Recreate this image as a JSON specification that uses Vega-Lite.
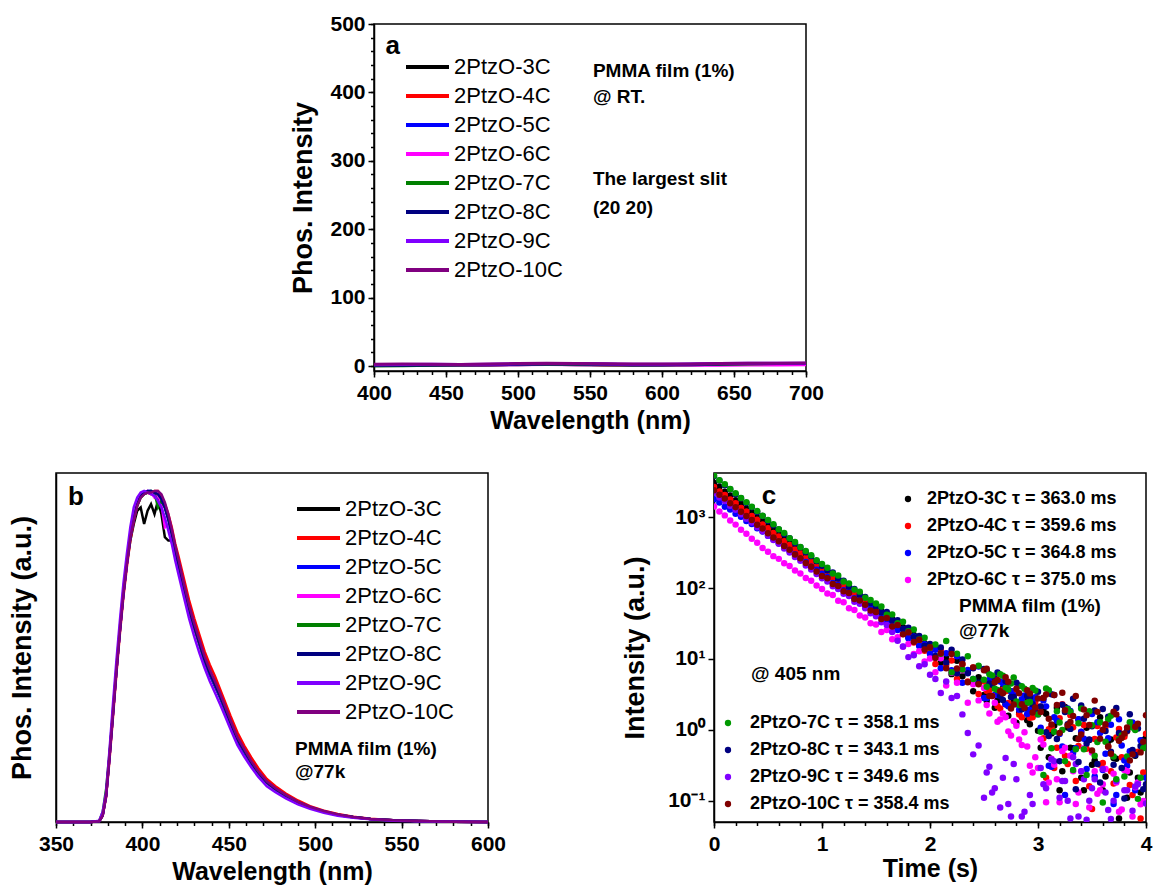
{
"$schema":"https://vega.github.io/schema/vega-lite/v6.json",
"padding":{"left":7,"top":12,"right":5,"bottom":5},
"background":"white",
"config":{
 "font":"Liberation Sans",
 "view":{"stroke":"#000","strokeWidth":1.5},
 "axis":{"domainColor":"#000","domainWidth":1.5,"tickColor":"#000","tickWidth":1.5,"tickSize":6,"labelColor":"#000","labelFontSize":21,"labelFontWeight":"bold","labelPadding":3,"labelFlush":false,"labelOverlap":false,"labelBound":false,"titleColor":"#000","titleFontWeight":"bold","titleFontSize":25,"grid":false},
 "legend":{"labelColor":"#000","padding":0,"offset":0,"labelLimit":400},
 "text":{"color":"#000"}
},
"datasets":{
 "names":[{"k":"3C","name":"2PtzO-3C"},{"k":"4C","name":"2PtzO-4C"},{"k":"5C","name":"2PtzO-5C"},{"k":"6C","name":"2PtzO-6C"},{"k":"7C","name":"2PtzO-7C"},{"k":"8C","name":"2PtzO-8C"},{"k":"9C","name":"2PtzO-9C"},{"k":"10C","name":"2PtzO-10C"}],
 "cnames":[{"k":"3C","name":"2PtzO-3C τ = 363.0 ms"},{"k":"4C","name":"2PtzO-4C τ = 359.6 ms"},{"k":"5C","name":"2PtzO-5C τ = 364.8 ms"},{"k":"6C","name":"2PtzO-6C τ = 375.0 ms"},{"k":"7C","name":"2PtzO-7C τ = 358.1 ms"},{"k":"8C","name":"2PtzO-8C τ = 343.1 ms"},{"k":"9C","name":"2PtzO-9C τ = 349.6 ms"},{"k":"10C","name":"2PtzO-10C τ = 358.4 ms"}],
 "a":[
  {"w":400,"3C":0.5,"4C":1.5,"5C":2.0,"6C":1.5,"7C":0.5,"8C":1.0,"9C":2.0,"10C":2.5},
  {"w":420,"3C":0.8,"4C":1.8,"5C":1.8,"6C":1.2,"7C":0.5,"8C":1.2,"9C":2.2,"10C":2.8},
  {"w":440,"3C":1.0,"4C":1.5,"5C":2.0,"6C":1.0,"7C":1.0,"8C":1.5,"9C":2.5,"10C":2.5},
  {"w":460,"3C":1.2,"4C":1.2,"5C":1.5,"6C":1.2,"7C":1.5,"8C":1.8,"9C":2.2,"10C":2.2},
  {"w":480,"3C":1.5,"4C":2.0,"5C":2.2,"6C":1.5,"7C":2.0,"8C":2.0,"9C":2.5,"10C":2.8},
  {"w":500,"3C":2.0,"4C":2.5,"5C":2.8,"6C":2.0,"7C":2.5,"8C":2.5,"9C":3.2,"10C":3.5},
  {"w":520,"3C":2.5,"4C":3.0,"5C":3.2,"6C":2.2,"7C":3.0,"8C":3.0,"9C":3.8,"10C":4.0},
  {"w":540,"3C":2.0,"4C":2.5,"5C":3.0,"6C":2.0,"7C":2.5,"8C":3.0,"9C":3.5,"10C":3.5},
  {"w":560,"3C":1.5,"4C":2.0,"5C":2.5,"6C":1.8,"7C":2.0,"8C":2.5,"9C":3.0,"10C":3.2},
  {"w":580,"3C":1.2,"4C":1.8,"5C":2.0,"6C":1.5,"7C":1.5,"8C":2.0,"9C":2.5,"10C":3.0},
  {"w":600,"3C":1.5,"4C":2.0,"5C":1.8,"6C":1.2,"7C":1.5,"8C":2.0,"9C":2.5,"10C":2.8},
  {"w":620,"3C":2.0,"4C":2.2,"5C":2.0,"6C":1.0,"7C":2.0,"8C":2.5,"9C":2.8,"10C":3.0},
  {"w":640,"3C":2.5,"4C":2.8,"5C":2.5,"6C":1.2,"7C":2.5,"8C":3.0,"9C":3.5,"10C":3.5},
  {"w":660,"3C":3.0,"4C":3.2,"5C":3.0,"6C":1.5,"7C":3.0,"8C":3.5,"9C":4.0,"10C":4.0},
  {"w":680,"3C":3.0,"4C":3.0,"5C":3.2,"6C":1.5,"7C":3.5,"8C":3.5,"9C":4.2,"10C":4.2},
  {"w":700,"3C":3.0,"4C":3.2,"5C":3.5,"6C":1.8,"7C":3.5,"8C":3.5,"9C":4.0,"10C":4.5}
 ],
 "b":[
  {"w":350,"3C":0,"4C":0,"5C":0,"6C":0,"7C":0,"8C":0,"9C":0,"10C":0},
  {"w":360,"3C":0,"4C":0,"5C":0,"6C":0,"7C":0,"8C":0,"9C":0,"10C":0},
  {"w":370,"3C":0,"4C":0,"5C":0,"6C":0,"7C":0,"8C":0,"9C":0,"10C":0},
  {"w":375,"3C":0.002,"4C":0.002,"5C":0.002,"6C":0.002,"7C":0.003,"8C":0.002,"9C":0.004,"10C":0.002},
  {"w":377,"3C":0.02,"4C":0.018,"5C":0.02,"6C":0.02,"7C":0.03,"8C":0.02,"9C":0.03,"10C":0.02},
  {"w":379,"3C":0.08,"4C":0.075,"5C":0.08,"6C":0.08,"7C":0.1,"8C":0.08,"9C":0.09,"10C":0.08},
  {"w":381,"3C":0.2,"4C":0.19,"5C":0.2,"6C":0.2,"7C":0.21,"8C":0.2,"9C":0.22,"10C":0.2},
  {"w":383,"3C":0.33,"4C":0.32,"5C":0.33,"6C":0.33,"7C":0.34,"8C":0.33,"9C":0.36,"10C":0.33},
  {"w":385,"3C":0.46,"4C":0.45,"5C":0.46,"6C":0.46,"7C":0.47,"8C":0.46,"9C":0.49,"10C":0.46},
  {"w":387,"3C":0.58,"4C":0.57,"5C":0.58,"6C":0.58,"7C":0.59,"8C":0.58,"9C":0.61,"10C":0.58},
  {"w":389,"3C":0.69,"4C":0.68,"5C":0.69,"6C":0.69,"7C":0.7,"8C":0.69,"9C":0.72,"10C":0.69},
  {"w":391,"3C":0.78,"4C":0.77,"5C":0.78,"6C":0.78,"7C":0.79,"8C":0.78,"9C":0.81,"10C":0.78},
  {"w":393,"3C":0.85,"4C":0.85,"5C":0.86,"6C":0.86,"7C":0.86,"8C":0.86,"9C":0.89,"10C":0.86},
  {"w":395,"3C":0.9,"4C":0.91,"5C":0.92,"6C":0.92,"7C":0.92,"8C":0.92,"9C":0.95,"10C":0.91},
  {"w":397,"3C":0.94,"4C":0.955,"5C":0.96,"6C":0.96,"7C":0.955,"8C":0.96,"9C":0.98,"10C":0.955},
  {"w":399,"3C":0.95,"4C":0.98,"5C":0.985,"6C":0.985,"7C":0.98,"8C":0.985,"9C":0.995,"10C":0.98},
  {"w":401,"3C":0.9,"4C":0.99,"5C":0.995,"6C":0.995,"7C":0.99,"8C":0.995,"9C":1.0,"10C":0.99},
  {"w":403,"3C":0.94,"4C":0.995,"5C":1.0,"6C":1.0,"7C":0.995,"8C":1.0,"9C":0.995,"10C":0.995},
  {"w":405,"3C":0.96,"4C":0.99,"5C":1.0,"6C":0.995,"7C":1.0,"8C":1.0,"9C":0.99,"10C":0.995},
  {"w":407,"3C":0.93,"4C":1.0,"5C":0.995,"6C":0.98,"7C":0.995,"8C":0.995,"9C":0.985,"10C":1.0},
  {"w":409,"3C":0.97,"4C":1.0,"5C":0.99,"6C":0.99,"7C":0.95,"8C":0.99,"9C":0.97,"10C":1.0},
  {"w":411,"3C":0.93,"4C":0.985,"5C":0.975,"6C":0.96,"7C":0.97,"8C":0.975,"9C":0.95,"10C":0.99},
  {"w":413,"3C":0.86,"4C":0.96,"5C":0.95,"6C":0.89,"7C":0.95,"8C":0.95,"9C":0.92,"10C":0.965},
  {"w":415,"3C":0.85,"4C":0.93,"5C":0.915,"6C":0.9,"7C":0.915,"8C":0.915,"9C":0.88,"10C":0.93},
  {"w":417,"3C":0.85,"4C":0.89,"5C":0.87,"6C":0.87,"7C":0.87,"8C":0.87,"9C":0.84,"10C":0.885},
  {"w":419,"3C":0.82,"4C":0.84,"5C":0.82,"6C":0.82,"7C":0.82,"8C":0.82,"9C":0.79,"10C":0.835},
  {"w":421,"3C":0.77,"4C":0.8,"5C":0.775,"6C":0.775,"7C":0.775,"8C":0.775,"9C":0.745,"10C":0.79},
  {"w":424,"3C":0.7,"4C":0.735,"5C":0.71,"6C":0.71,"7C":0.71,"8C":0.71,"9C":0.68,"10C":0.72},
  {"w":427,"3C":0.64,"4C":0.67,"5C":0.645,"6C":0.645,"7C":0.645,"8C":0.645,"9C":0.615,"10C":0.655},
  {"w":430,"3C":0.585,"4C":0.615,"5C":0.59,"6C":0.59,"7C":0.59,"8C":0.59,"9C":0.56,"10C":0.6},
  {"w":433,"3C":0.535,"4C":0.565,"5C":0.54,"6C":0.54,"7C":0.54,"8C":0.54,"9C":0.51,"10C":0.55},
  {"w":436,"3C":0.485,"4C":0.515,"5C":0.485,"6C":0.49,"7C":0.49,"8C":0.49,"9C":0.465,"10C":0.5},
  {"w":439,"3C":0.445,"4C":0.475,"5C":0.445,"6C":0.45,"7C":0.45,"8C":0.45,"9C":0.425,"10C":0.46},
  {"w":442,"3C":0.41,"4C":0.44,"5C":0.41,"6C":0.415,"7C":0.415,"8C":0.415,"9C":0.39,"10C":0.425},
  {"w":445,"3C":0.375,"4C":0.4,"5C":0.375,"6C":0.38,"7C":0.38,"8C":0.38,"9C":0.355,"10C":0.388},
  {"w":448,"3C":0.335,"4C":0.36,"5C":0.335,"6C":0.34,"7C":0.34,"8C":0.34,"9C":0.318,"10C":0.348},
  {"w":451,"3C":0.295,"4C":0.32,"5C":0.295,"6C":0.3,"7C":0.3,"8C":0.3,"9C":0.28,"10C":0.307},
  {"w":455,"3C":0.245,"4C":0.27,"5C":0.245,"6C":0.25,"7C":0.25,"8C":0.25,"9C":0.232,"10C":0.256},
  {"w":459,"3C":0.21,"4C":0.23,"5C":0.21,"6C":0.215,"7C":0.215,"8C":0.215,"9C":0.197,"10C":0.22},
  {"w":463,"3C":0.176,"4C":0.195,"5C":0.176,"6C":0.18,"7C":0.18,"8C":0.18,"9C":0.165,"10C":0.184},
  {"w":467,"3C":0.147,"4C":0.163,"5C":0.147,"6C":0.15,"7C":0.15,"8C":0.15,"9C":0.137,"10C":0.153},
  {"w":472,"3C":0.118,"4C":0.13,"5C":0.118,"6C":0.12,"7C":0.12,"8C":0.12,"9C":0.108,"10C":0.123},
  {"w":477,"3C":0.098,"4C":0.108,"5C":0.098,"6C":0.1,"7C":0.1,"8C":0.1,"9C":0.09,"10C":0.102},
  {"w":483,"3C":0.078,"4C":0.086,"5C":0.078,"6C":0.08,"7C":0.08,"8C":0.08,"9C":0.071,"10C":0.082},
  {"w":490,"3C":0.059,"4C":0.065,"5C":0.059,"6C":0.06,"7C":0.06,"8C":0.06,"9C":0.053,"10C":0.061},
  {"w":497,"3C":0.044,"4C":0.048,"5C":0.044,"6C":0.045,"7C":0.045,"8C":0.045,"9C":0.04,"10C":0.046},
  {"w":505,"3C":0.031,"4C":0.034,"5C":0.031,"6C":0.032,"7C":0.032,"8C":0.032,"9C":0.028,"10C":0.033},
  {"w":513,"3C":0.021,"4C":0.024,"5C":0.021,"6C":0.022,"7C":0.022,"8C":0.022,"9C":0.019,"10C":0.023},
  {"w":522,"3C":0.014,"4C":0.016,"5C":0.014,"6C":0.015,"7C":0.015,"8C":0.015,"9C":0.013,"10C":0.015},
  {"w":532,"3C":0.009,"4C":0.01,"5C":0.009,"6C":0.009,"7C":0.009,"8C":0.009,"9C":0.008,"10C":0.009},
  {"w":545,"3C":0.005,"4C":0.005,"5C":0.005,"6C":0.005,"7C":0.005,"8C":0.005,"9C":0.004,"10C":0.005},
  {"w":560,"3C":0.003,"4C":0.003,"5C":0.003,"6C":0.003,"7C":0.003,"8C":0.003,"9C":0.002,"10C":0.003},
  {"w":580,"3C":0.001,"4C":0.001,"5C":0.001,"6C":0.001,"7C":0.001,"8C":0.001,"9C":0.001,"10C":0.001},
  {"w":600,"3C":0,"4C":0,"5C":0,"6C":0,"7C":0,"8C":0,"9C":0,"10C":0}
 ],
 "c":[
  {"t":0,"3C":3040,"4C":2660,"5C":1790,"6C":1410,"7C":3880,"8C":3800,"9C":2200,"10C":2390},
  {"t":0.05,"3C":2680,"4C":2310,"5C":1610,"6C":1200,"7C":3330,"8C":3300,"9C":1900,"10C":2070},
  {"t":0.1,"3C":2280,"4C":2050,"5C":1400,"6C":1060,"7C":2920,"8C":2830,"9C":1690,"10C":1830},
  {"t":0.15,"3C":2020,"4C":1770,"5C":1280,"6C":895,"7C":2490,"8C":2470,"9C":1450,"10C":1570},
  {"t":0.2,"3C":1730,"4C":1570,"5C":1120,"6C":785,"7C":2180,"8C":2110,"9C":1270,"10C":1385},
  {"t":0.25,"3C":1530,"4C":1350,"5C":1010,"6C":665,"7C":1870,"8C":1855,"9C":1100,"10C":1190},
  {"t":0.3,"3C":1310,"4C":1200,"5C":885,"6C":585,"7C":1630,"8C":1580,"9C":950,"10C":1035},
  {"t":0.35,"3C":1160,"4C":1035,"5C":800,"6C":495,"7C":1398,"8C":1385,"9C":840,"10C":912},
  {"t":0.4,"3C":992,"4C":918,"5C":698,"6C":436,"7C":1222,"8C":1184,"9C":720,"10C":782},
  {"t":0.45,"3C":878,"4C":790,"5C":628,"6C":368,"7C":1045,"8C":1038,"9C":635,"10C":692},
  {"t":0.5,"3C":752,"4C":700,"5C":548,"6C":325,"7C":915,"8C":886,"9C":545,"10C":592},
  {"t":0.55,"3C":665,"4C":600,"5C":492,"6C":282,"7C":794,"8C":768,"9C":475,"10C":516},
  {"t":0.6,"3C":569,"4C":535,"5C":427,"6C":258,"7C":676,"8C":672,"9C":420,"10C":458},
  {"t":0.65,"3C":503,"4C":458,"5C":384,"6C":224,"7C":596,"8C":574,"9C":362,"10C":392},
  {"t":0.7,"3C":430,"4C":406,"5C":332,"6C":204,"7C":506,"8C":503,"9C":318,"10C":347},
  {"t":0.75,"3C":381,"4C":349,"5C":299,"6C":177,"7C":446,"8C":429,"9C":275,"10C":297},
  {"t":0.8,"3C":325,"4C":310,"5C":258,"6C":161,"7C":379,"8C":376,"9C":242,"10C":264},
  {"t":0.85,"3C":289,"4C":265,"5C":233,"6C":139,"7C":334,"8C":320,"9C":208,"10C":225},
  {"t":0.9,"3C":246,"4C":236,"5C":199,"6C":127,"7C":290,"8C":282,"9C":183,"10C":200},
  {"t":0.95,"3C":219,"4C":201,"5C":181,"6C":109,"7C":246,"8C":240,"9C":158,"10C":171},
  {"t":1.0,"3C":191,"4C":176,"5C":159,"6C":97,"7C":218,"8C":207,"9C":137,"10C":148},
  {"t":1.05,"3C":170,"4C":150,"5C":143,"6C":84,"7C":194,"8C":178,"9C":124,"10C":137},
  {"t":1.1,"3C":139,"4C":141,"5C":118,"6C":80,"7C":160,"8C":166,"9C":106,"10C":114},
  {"t":1.15,"3C":131,"4C":115,"5C":111,"6C":66,"7C":150,"8C":136,"9C":97,"10C":107},
  {"t":1.2,"3C":106,"4C":109,"5C":93,"6C":63,"7C":124,"8C":127,"9C":83,"10C":90},
  {"t":1.25,"3C":101,"4C":89,"5C":88,"6C":52,"7C":116,"8C":105,"9C":77,"10C":85},
  {"t":1.3,"3C":82,"4C":83,"5C":72,"6C":49,"7C":95,"8C":97,"9C":64,"10C":70},
  {"t":1.35,"3C":77,"4C":68,"5C":68.5,"6C":41,"7C":89,"8C":81,"9C":60,"10C":66.5},
  {"t":1.4,"3C":62.5,"4C":63.5,"5C":56,"6C":38.5,"7C":73,"8C":74.5,"9C":52,"10C":58},
  {"t":1.45,"3C":58.5,"4C":52,"5C":53,"6C":31.8,"7C":68,"8C":61.5,"9C":44,"10C":48.3},
  {"t":1.5,"3C":48.5,"4C":49,"5C":44,"6C":30.5,"7C":60.5,"8C":53.8,"9C":40,"10C":46},
  {"t":1.55,"3C":47,"4C":38.5,"5C":42.5,"6C":24,"7C":55,"8C":45.5,"9C":33,"10C":36.5},
  {"t":1.6,"3C":35.5,"4C":39.5,"5C":33,"6C":25.5,"7C":42,"8C":46,"9C":30,"10C":37.8},
  {"t":1.65,"3C":36.5,"4C":29.5,"5C":34,"6C":19,"7C":42.5,"8C":35,"9C":24,"10C":28.6},
  {"t":1.7,"3C":27,"4C":30.2,"5C":25.5,"6C":20.3,"7C":32,"8C":35.2,"9C":18,"10C":30},
  {"t":1.75,"3C":28,"4C":22.4,"5C":26.4,"6C":14.8,"7C":33.5,"8C":26.5,"9C":15,"10C":22.2},
  {"t":1.8,"3C":20.5,"4C":23.4,"5C":19.6,"6C":16.2,"7C":24.5,"8C":27.6,"9C":10.6,"10C":23.8},
  {"t":1.85,"3C":21.8,"4C":17,"5C":20.8,"6C":11.7,"7C":26,"8C":20.2,"9C":11.3,"10C":17.4},
  {"t":1.9,"3C":15.8,"4C":17.9,"5C":15.2,"6C":12.8,"7C":18.8,"8C":21.1,"9C":7.9,"10C":18.6},
  {"t":1.95,"3C":16.6,"4C":13,"5C":16.1,"6C":9.2,"7C":19.9,"8C":15.3,"9C":8.4,"10C":13.6},
  {"t":2.0,"3C":12.1,"4C":13.8,"5C":11.8,"6C":10.1,"7C":14.5,"8C":16.2,"9C":6,"10C":14.6},
  {"t":2.05,"3C":14.2,"4C":8.5,"5C":13.5,"6C":6.5,"7C":16,"8C":11,"9C":5.2,"10C":10.3},
  {"t":2.1,"3C":8.8,"4C":13.2,"5C":7.4,"6C":10.2,"7C":11.8,"8C":14.5,"9C":3.3,"10C":12},
  {"t":2.15,"3C":10.2,"4C":8.3,"5C":12,"6C":4.2,"7C":17.9,"8C":8.8,"9C":4.8,"10C":7.4},
  {"t":2.2,"3C":6.1,"4C":9.5,"5C":6.9,"6C":6.4,"7C":6.5,"8C":13.5,"9C":2.8,"10C":11.7},
  {"t":2.25,"3C":9.4,"4C":5.2,"5C":10.9,"6C":4.6,"7C":11.8,"8C":6.3,"9C":3.0,"10C":7.3},
  {"t":2.3,"3C":5.7,"4C":8.4,"5C":4.6,"6C":6.9,"7C":7.1,"8C":9.8,"9C":1.65,"10C":8.5},
  {"t":2.35,"3C":6.5,"4C":4.8,"5C":7.0,"6C":2.4,"7C":10.9,"8C":6.3,"9C":0.9,"10C":4.7},
  {"t":2.4,"3C":3.5,"4C":7.6,"5C":5.2,"6C":4.4,"7C":5.2,"8C":7.4,"9C":0.45,"10C":7.6},
  {"t":2.45,"3C":5.5,"4C":3.2,"5C":7.8,"6C":2.6,"7C":8.0,"8C":4.6,"9C":0.6,"10C":4.4},
  {"t":2.5,"3C":3.1,"4C":4.8,"5C":2.8,"6C":3.9,"7C":5.1,"8C":7.2,"9C":0.11,"10C":6.9},
  {"t":2.55,"3C":4.9,"4C":3.6,"5C":5.1,"6C":1.7,"7C":6.1,"8C":4.5,"9C":0.3,"10C":3.0},
  {"t":2.6,"3C":2.05,"4C":5.4,"5C":3.1,"6C":2.4,"7C":3.8,"8C":5.3,"9C":0.15,"10C":4.7},
  {"t":2.65,"3C":3.1,"4C":2.0,"5C":4.8,"6C":1.4,"7C":6.1,"8C":3.0,"9C":0.08,"10C":3.5},
  {"t":2.7,"3C":2.3,"4C":3.5,"5C":2.3,"6C":1.5,"7C":3.9,"8C":4.9,"9C":0.4,"10C":5.5},
  {"t":2.75,"3C":3.5,"4C":2.1,"5C":3.5,"6C":0.83,"7C":4.5,"8C":2.9,"9C":0.06,"10C":2.0},
  {"t":2.8,"3C":1.26,"4C":3.3,"5C":2.3,"6C":1.14,"7C":2.5,"8C":4.6,"9C":0.2,"10C":3.8},
  {"t":2.85,"3C":2.3,"4C":1.5,"5C":2.7,"6C":0.61,"7C":4.1,"8C":1.95,"9C":0.06,"10C":2.3},
  {"t":2.9,"3C":1.36,"4C":2.4,"5C":1.67,"6C":0.58,"7C":2.4,"8C":3.0,"9C":null,"10C":3.6},
  {"t":2.95,"3C":2.1,"4C":1.5,"5C":2.6,"6C":0.25,"7C":3.9,"8C":2.3,"9C":0.09,"10C":1.75},
  {"t":3.0,"3C":0.97,"4C":1.77,"5C":1.66,"6C":0.29,"7C":1.65,"8C":3.45,"9C":null,"10C":2.76},
  {"t":3.05,"3C":1.95,"4C":0.76,"5C":2.6,"6C":0.62,"7C":0.23,"8C":2.8,"9C":0.17,"10C":2.8},
  {"t":3.1,"3C":0.41,"4C":1.02,"5C":0.31,"6C":0.18,"7C":3.6,"8C":0.82,"9C":null,"10C":1.43},
  {"t":3.15,"3C":1.15,"4C":0.29,"5C":1.5,"6C":0.32,"7C":0.94,"8C":3.1,"9C":0.36,"10C":3.1},
  {"t":3.2,"3C":0.14,"4C":1.45,"5C":0.87,"6C":0.095,"7C":1.27,"8C":0.36,"9C":0.11,"10C":0.9},
  {"t":3.25,"3C":2.1,"4C":0.43,"5C":0.12,"6C":0.56,"7C":0.36,"8C":1.78,"9C":0.19,"10C":1.88},
  {"t":3.3,"3C":0.56,"4C":1.61,"5C":1.84,"6C":0.43,"7C":1.8,"8C":1.03,"9C":0.056,"10C":1.29},
  {"t":3.35,"3C":0.76,"4C":0.19,"5C":0.55,"6C":0.09,"7C":0.53,"8C":0.145,"9C":0.33,"10C":3.0},
  {"t":3.4,"3C":0.21,"4C":0.93,"5C":0.94,"6C":0.26,"7C":2.0,"8C":2.2,"9C":0.26,"10C":0.86},
  {"t":3.45,"3C":1.07,"4C":0.54,"5C":0.28,"6C":null,"7C":0.23,"8C":0.64,"9C":0.054,"10C":1.61},
  {"t":3.5,"3C":0.32,"4C":0.076,"5C":1.67,"6C":0.48,"7C":1.16,"8C":1.12,"9C":0.15,"10C":0.51},
  {"t":3.55,"3C":1.19,"4C":1.13,"5C":1.28,"6C":0.125,"7C":0.67,"8C":0.33,"9C":null,"10C":1.79},
  {"t":3.6,"3C":0.14,"4C":0.34,"5C":0.27,"6C":0.17,"7C":0.094,"8C":1.97,"9C":0.28,"10C":1.0},
  {"t":3.65,"3C":0.69,"4C":0.58,"5C":0.76,"6C":null,"7C":1.41,"8C":1.53,"9C":0.074,"10C":0.58},
  {"t":3.7,"3C":0.4,"4C":0.175,"5C":0.09,"6C":0.24,"7C":0.42,"8C":0.32,"9C":0.1,"10C":1.8},
  {"t":3.75,"3C":0.056,"4C":1.03,"5C":1.41,"6C":0.07,"7C":0.73,"8C":0.9,"9C":null,"10C":0.7},
  {"t":3.8,"3C":0.85,"4C":0.8,"5C":0.37,"6C":0.27,"7C":0.22,"8C":0.107,"9C":0.14,"10C":0.89},
  {"t":3.85,"3C":0.25,"4C":0.166,"5C":0.5,"6C":null,"7C":1.28,"8C":1.66,"9C":null,"10C":0.37},
  {"t":3.9,"3C":0.43,"4C":0.47,"5C":0.14,"6C":0.155,"7C":0.99,"8C":0.44,"9C":0.158,"10C":1.1},
  {"t":3.95,"3C":0.13,"4C":0.056,"5C":0.71,"6C":0.089,"7C":0.21,"8C":0.59,"9C":null,"10C":0.48},
  {"t":4.0,"3C":0.77,"4C":0.88,"5C":0.21,"6C":null,"7C":0.59,"8C":0.17,"9C":0.091,"10C":1.61},
  {"t":2.525,"3C":2.57,"4C":3.56,"5C":2.81,"6C":2.24,"7C":4.06,"8C":6.85,"9C":0.25,"10C":7.26},
  {"t":2.575,"3C":4.09,"4C":5.26,"5C":4.76,"6C":3.0,"7C":5.86,"8C":4.36,"9C":0.13,"10C":2.99},
  {"t":2.625,"3C":2.59,"4C":2.16,"5C":3.09,"6C":1.3,"7C":3.65,"8C":6.42,"9C":null,"10C":5.05},
  {"t":2.675,"3C":3.83,"4C":3.66,"5C":4.5,"6C":1.7,"7C":5.8,"8C":2.64,"9C":0.21,"10C":3.28},
  {"t":2.725,"3C":1.58,"4C":2.38,"5C":2.14,"6C":0.95,"7C":3.69,"8C":4.48,"9C":0.09,"10C":4.78},
  {"t":2.775,"3C":2.67,"4C":3.46,"5C":3.08,"6C":1.33,"7C":5.45,"8C":2.91,"9C":0.33,"10C":2.28},
  {"t":2.825,"3C":1.73,"4C":1.64,"5C":1.92,"6C":0.73,"7C":2.24,"8C":4.23,"9C":null,"10C":3.27},
  {"t":2.875,"3C":2.52,"4C":2.37,"5C":3.06,"6C":0.92,"7C":3.79,"8C":2.01,"9C":0.07,"10C":2.05},
  {"t":2.925,"3C":1.2,"4C":1.48,"5C":1.94,"6C":0.31,"7C":2.46,"8C":2.89,"9C":0.12,"10C":3.25},
  {"t":2.975,"3C":1.73,"4C":2.35,"5C":2.87,"6C":0.41,"7C":3.58,"8C":1.81,"9C":null,"10C":2.06},
  {"t":3.025,"3C":0.56,"4C":2.12,"5C":1.07,"6C":0.73,"7C":0.94,"8C":2.14,"9C":0.29,"10C":1.78},
  {"t":3.075,"3C":1.68,"4C":0.21,"5C":2.14,"6C":0.095,"7C":3.82,"8C":0.92,"9C":0.15,"10C":3.15},
  {"t":3.125,"3C":0.89,"4C":1.09,"5C":0.3,"6C":0.39,"7C":0.55,"8C":3.17,"9C":0.38,"10C":1.19},
  {"t":3.175,"3C":2.05,"4C":0.56,"5C":1.34,"6C":0.2,"7C":1.82,"8C":0.74,"9C":null,"10C":2.23},
  {"t":3.225,"3C":0.26,"4C":2.29,"5C":0.58,"6C":0.5,"7C":0.99,"8C":2.25,"9C":0.19,"10C":3.34},
  {"t":3.275,"3C":1.08,"4C":0.33,"5C":2.0,"6C":null,"7C":1.97,"8C":1.2,"9C":0.1,"10C":1.16},
  {"t":3.325,"3C":0.55,"4C":1.09,"5C":0.47,"6C":0.26,"7C":0.27,"8C":2.75,"9C":0.41,"10C":1.56},
  {"t":3.375,"3C":1.4,"4C":0.59,"5C":1.41,"6C":0.13,"7C":1.24,"8C":0.35,"9C":0.06,"10C":0.74},
  {"t":3.425,"3C":0.14,"4C":1.17,"5C":0.75,"6C":0.55,"7C":0.53,"8C":1.43,"9C":0.2,"10C":1.93},
  {"t":3.475,"3C":0.72,"4C":0.16,"5C":1.72,"6C":0.08,"7C":1.82,"8C":0.73,"9C":0.1,"10C":1.17},
  {"t":3.525,"3C":0.37,"4C":0.74,"5C":0.22,"6C":0.26,"7C":0.43,"8C":1.87,"9C":0.2,"10C":2.58},
  {"t":3.575,"3C":1.5,"4C":0.32,"5C":0.9,"6C":0.14,"7C":1.28,"8C":0.18,"9C":null,"10C":0.75},
  {"t":3.625,"3C":0.22,"4C":1.1,"5C":0.46,"6C":0.28,"7C":0.68,"8C":0.96,"9C":0.13,"10C":1.2},
  {"t":3.675,"3C":0.73,"4C":0.26,"5C":1.18,"6C":null,"7C":1.58,"8C":0.49,"9C":0.055,"10C":0.46},
  {"t":3.725,"3C":0.39,"4C":0.78,"5C":0.12,"6C":0.18,"7C":0.2,"8C":2.03,"9C":0.19,"10C":1.65},
  {"t":3.775,"3C":0.78,"4C":0.41,"5C":0.6,"6C":0.075,"7C":0.83,"8C":0.29,"9C":null,"10C":0.77},
  {"t":3.825,"3C":0.11,"4C":0.95,"5C":0.31,"6C":0.26,"7C":0.42,"8C":0.97,"9C":0.14,"10C":1.08},
  {"t":3.875,"3C":0.49,"4C":0.12,"5C":1.27,"6C":0.06,"7C":1.08,"8C":0.52,"9C":0.072,"10C":0.45},
  {"t":3.925,"3C":0.21,"4C":0.49,"5C":0.18,"6C":0.18,"7C":0.106,"8C":1.04,"9C":0.17,"10C":1.22},
  {"t":3.975,"3C":0.72,"4C":0.25,"5C":0.6,"6C":0.099,"7C":0.55,"8C":0.145,"9C":null,"10C":0.68}
 ],
 "labA":[{"x":413,"y":468,"label":"a"}],
 "noteA":[{"x":552,"y":431,"label":"PMMA film (1%)"},{"x":552,"y":393,"label":"@ RT."},{"x":552,"y":273,"label":"The largest slit"},{"x":552,"y":231,"label":"(20 20)"}],
 "labB":[{"x":361.6,"y":0.982,"label":"b"}],
 "noteB":[{"x":488.3,"y":0.22,"label":"PMMA film (1%)"},{"x":488.3,"y":0.151,"label":"@77k"}],
 "labC":[{"x":0.509,"y":1977,"label":"c"}],
 "noteC":[{"x":2.269,"y":55.7,"label":"PMMA film (1%)"},{"x":2.269,"y":24.8,"label":"@77k"},{"x":0.343,"y":6.15,"label":"@ 405 nm"}]
},
"spacing":38,
"resolve":{"scale":{"color":"independent"}},
"vconcat":[
 {"spacing":18,"bounds":"flush","resolve":{"scale":{"color":"independent"}},"hconcat":[
  {"width":300,"height":347,"data":{"values":[{}]},"mark":{"type":"text","text":""},"view":{"stroke":null,"fill":"white"}},
  {"width":432,"height":347,
   "layer":[
    {"data":{"name":"a"},
     "transform":[{"fold":["3C","4C","5C","6C","7C","8C","9C","10C"],"as":["k","v"]},{"lookup":"k","from":{"data":{"name":"names"},"key":"k","fields":["name"]}}],
     "mark":{"type":"line","strokeWidth":3},
     "encoding":{
      "x":{"field":"w","type":"quantitative","scale":{"domain":[400,700],"nice":false,"zero":false},"axis":{"orient":"bottom","values":[400,450,500,550,600,650,700],"title":"Wavelength (nm)","titlePadding":5,"labelPadding":5}},
      "y":{"field":"v","type":"quantitative","scale":{"domain":[-7.3,500],"nice":false,"zero":false},"axis":{"orient":"left","values":[0,100,200,300,400,500],"title":"Phos. Intensity","titleFontSize":27,"titlePadding":12}},
      "color":{"field":"name","type":"nominal","scale":{"domain":["2PtzO-3C","2PtzO-4C","2PtzO-5C","2PtzO-6C","2PtzO-7C","2PtzO-8C","2PtzO-9C","2PtzO-10C"],"range":["#000000","#ff0000","#0000ff","#ff00ff","#008000","#000080","#8000ff","#800080"]},
        "legend":{"title":null,"orient":"none","legendX":30,"legendY":32,"symbolType":"stroke","symbolSize":1849,"symbolStrokeWidth":4,"clipHeight":22,"labelFontSize":22,"labelOffset":3,"rowPadding":7}}
     }},
    {"data":{"name":"a"},
     "transform":[{"fold":["3C","4C","5C","6C","7C","8C","9C","10C"],"as":["k","v"]}],
     "mark":{"type":"line","opacity":0},
     "encoding":{
      "x":{"field":"w","type":"quantitative","axis":{"orient":"bottom","values":[400,410,420,430,440,450,460,470,480,490,500,510,520,530,540,550,560,570,580,590,600,610,620,630,640,650,660,670,680,690,700],"labels":false,"tickSize":3.5,"domain":false,"title":null}},
      "y":{"field":"v","type":"quantitative","axis":{"orient":"left","values":[0,20,40,60,80,100,120,140,160,180,200,220,240,260,280,300,320,340,360,380,400,420,440,460,480,500],"labels":false,"tickSize":3.5,"domain":false,"title":null}}
     }},
    {"data":{"name":"labA"},"mark":{"type":"text","fontSize":26,"fontWeight":"bold","align":"center","baseline":"middle"},
     "encoding":{"x":{"field":"x","type":"quantitative","axis":null},"y":{"field":"y","type":"quantitative","axis":null},"text":{"field":"label"}}},
    {"data":{"name":"noteA"},"mark":{"type":"text","fontSize":19,"fontWeight":"bold","align":"left","baseline":"middle"},
     "encoding":{"x":{"field":"x","type":"quantitative","axis":null},"y":{"field":"y","type":"quantitative","axis":null},"text":{"field":"label"}}}
   ],
   "resolve":{"axis":{"x":"independent","y":"independent"}}
  }
 ]},
 {"spacing":226,"bounds":"flush","resolve":{"scale":{"color":"independent"}},"hconcat":[
  {"width":432,"height":349,
   "layer":[
    {"data":{"name":"b"},
     "transform":[{"fold":["3C","4C","5C","6C","7C","8C","9C","10C"],"as":["k","v"]},{"lookup":"k","from":{"data":{"name":"names"},"key":"k","fields":["name"]}}],
     "mark":{"type":"line","strokeWidth":2.5},
     "encoding":{
      "x":{"field":"w","type":"quantitative","scale":{"domain":[350,600],"nice":false,"zero":false},"axis":{"orient":"bottom","values":[350,400,450,500,550,600],"title":"Wavelength (nm)","titlePadding":5,"labelPadding":5}},
      "y":{"field":"v","type":"quantitative","scale":{"domain":[0,1.054],"nice":false},"axis":{"orient":"left","labels":false,"ticks":false,"title":"Phos. Intensity (a.u.)","titleFontSize":27,"titlePadding":20}},
      "color":{"field":"name","type":"nominal","scale":{"domain":["2PtzO-3C","2PtzO-4C","2PtzO-5C","2PtzO-6C","2PtzO-7C","2PtzO-8C","2PtzO-9C","2PtzO-10C"],"range":["#000000","#ff0000","#0000ff","#ff00ff","#008000","#000080","#8000ff","#800080"]},
        "legend":{"title":null,"orient":"none","legendX":239,"legendY":25,"symbolType":"stroke","symbolSize":1849,"symbolStrokeWidth":4,"clipHeight":22,"labelFontSize":22,"labelOffset":3,"rowPadding":7}}
     }},
    {"data":{"name":"b"},
     "mark":{"type":"line","opacity":0},
     "encoding":{
      "x":{"field":"w","type":"quantitative","axis":{"orient":"bottom","values":[350,360,370,380,390,400,410,420,430,440,450,460,470,480,490,500,510,520,530,540,550,560,570,580,590,600],"labels":false,"tickSize":3.5,"domain":false,"title":null}},
      "y":{"field":"8C","type":"quantitative","axis":null}
     }},
    {"data":{"name":"labB"},"mark":{"type":"text","fontSize":26,"fontWeight":"bold","align":"center","baseline":"middle"},
     "encoding":{"x":{"field":"x","type":"quantitative","axis":null},"y":{"field":"y","type":"quantitative","axis":null},"text":{"field":"label"}}},
    {"data":{"name":"noteB"},"mark":{"type":"text","fontSize":19,"fontWeight":"bold","align":"left","baseline":"middle"},
     "encoding":{"x":{"field":"x","type":"quantitative","axis":null},"y":{"field":"y","type":"quantitative","axis":null},"text":{"field":"label"}}}
   ],
   "resolve":{"axis":{"x":"independent","y":"independent"}}
  },
  {"width":432,"height":349,
   "layer":[
    {"data":{"name":"c"},
     "transform":[{"fold":["3C","4C","5C","6C"],"as":["k","v"]},{"filter":{"field":"v","valid":true}},{"lookup":"k","from":{"data":{"name":"cnames"},"key":"k","fields":["name"]}}],
     "mark":{"type":"point","filled":true,"size":42,"opacity":1,"clip":true},
     "encoding":{
      "x":{"field":"t","type":"quantitative","scale":{"domain":[0,4],"nice":false},"axis":{"orient":"bottom","values":[0,1,2,3,4],"title":"Time (s)","titlePadding":2,"labelPadding":5}},
      "y":{"field":"v","type":"quantitative","scale":{"type":"log","domain":[0.05,4200],"nice":false},"axis":{"orient":"left","values":[0.1,1,10,100,1000],"labelExpr":"datum.value < 0.5 ? '10⁻¹' : datum.value < 5 ? '10⁰' : datum.value < 50 ? '10¹' : datum.value < 500 ? '10²' : '10³'","title":"Intensity (a.u.)","titleFontSize":27,"titlePadding":18}},
      "color":{"field":"name","type":"nominal","scale":{"domain":["2PtzO-3C τ = 363.0 ms","2PtzO-4C τ = 359.6 ms","2PtzO-5C τ = 364.8 ms","2PtzO-6C τ = 375.0 ms"],"range":["#000000","#ff0000","#0000ff","#ff00ff"]},
        "legend":{"title":null,"orient":"none","legendX":185,"legendY":17,"symbolType":"circle","symbolSize":40,"labelFontSize":18,"labelFontWeight":"bold","labelOffset":10,"rowPadding":9}},
      "order":{"field":"k","sort":"ascending"}
     }},
    {"data":{"name":"c"},
     "transform":[{"fold":["7C","8C","9C","10C"],"as":["k","v"]},{"filter":{"field":"v","valid":true}},{"lookup":"k","from":{"data":{"name":"cnames"},"key":"k","fields":["name"]}}],
     "mark":{"type":"point","filled":true,"size":42,"opacity":1,"clip":true},
     "encoding":{
      "x":{"field":"t","type":"quantitative","axis":null},
      "y":{"field":"v","type":"quantitative","axis":null},
      "color":{"field":"name","type":"nominal","scale":{"domain":["2PtzO-7C τ = 358.1 ms","2PtzO-8C τ = 343.1 ms","2PtzO-9C τ = 349.6 ms","2PtzO-10C τ = 358.4 ms"],"range":["#009900","#000080","#8000ff","#800000"]},
        "legend":{"title":null,"orient":"none","legendX":5,"legendY":241,"symbolType":"circle","symbolSize":40,"labelFontSize":18,"labelFontWeight":"bold","labelOffset":13,"rowPadding":9}},
      "order":{"field":"k","sort":"descending"}
     }},
    {"data":{"name":"c"},
     "mark":{"type":"point","opacity":0},
     "encoding":{
      "x":{"field":"t","type":"quantitative","axis":{"orient":"bottom","values":[0,0.2,0.4,0.6,0.8,1,1.2,1.4,1.6,1.8,2,2.2,2.4,2.6,2.8,3,3.2,3.4,3.6,3.8,4],"labels":false,"tickSize":3.5,"domain":false,"title":null}},
      "y":{"field":"8C","type":"quantitative","axis":null}
     }},
    {"data":{"name":"labC"},"mark":{"type":"text","fontSize":26,"fontWeight":"bold","align":"center","baseline":"middle"},
     "encoding":{"x":{"field":"x","type":"quantitative","axis":null},"y":{"field":"y","type":"quantitative","axis":null},"text":{"field":"label"}}},
    {"data":{"name":"noteC"},"mark":{"type":"text","fontSize":19,"fontWeight":"bold","align":"left","baseline":"middle"},
     "encoding":{"x":{"field":"x","type":"quantitative","axis":null},"y":{"field":"y","type":"quantitative","axis":null},"text":{"field":"label"}}}
   ],
   "resolve":{"scale":{"color":"independent"},"axis":{"x":"independent","y":"independent"}}
  }
 ]}
]
}
